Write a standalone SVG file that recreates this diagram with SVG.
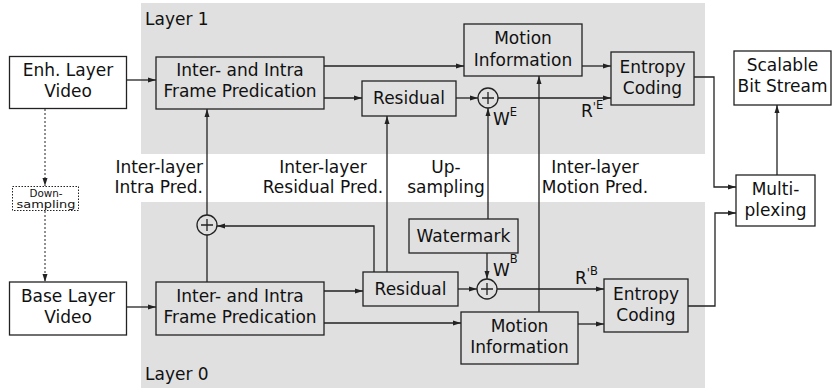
<svg xmlns="http://www.w3.org/2000/svg" width="834" height="388" viewBox="0 0 834 388">
<defs>
<marker id="ah" viewBox="0 0 8 6" refX="8" refY="3" markerWidth="8" markerHeight="6" markerUnits="userSpaceOnUse" orient="auto">
<path d="M0,0.5 L8,3 L0,5.5 z" fill="#222"/>
</marker>
<style>
text{font-family:"DejaVu Sans","Liberation Sans",sans-serif;font-size:17px;fill:#111;text-anchor:middle}
.lab{text-anchor:start}
.b{fill:#e0e0e0;stroke:#222;stroke-width:1.3}
.w{fill:#fff;stroke:#222;stroke-width:1.3}
.d{fill:#fff;stroke:#222;stroke-width:1;stroke-dasharray:1.5 1.5}
.c{fill:none;stroke:#222;stroke-width:1.3}
.cd{fill:none;stroke:#222;stroke-width:1;stroke-dasharray:2 2}
.sup{font-size:11.5px}
.small{font-size:10px}
</style>
</defs>
<rect x="141" y="3" width="564" height="151" fill="#e0e0e0"/>
<rect x="141" y="202" width="564" height="186" fill="#e0e0e0"/>
<text class="lab" x="145" y="25">Layer 1</text>
<text class="lab" x="145" y="380">Layer 0</text>

<g id="connectors">
<path class="c" d="M127,80 H156" marker-end="url(#ah)"/>
<path class="c" d="M324,66 H464" marker-end="url(#ah)"/>
<path class="c" d="M324,98 H362" marker-end="url(#ah)"/>
<path class="c" d="M456,98 H478" marker-end="url(#ah)"/>
<path class="c" d="M498,98 H611" marker-end="url(#ah)"/>
<path class="c" d="M582,66 H611" marker-end="url(#ah)"/>
<path class="c" d="M694,77 H714 V187 H736" marker-end="url(#ah)"/>
<path class="c" d="M688,306 H715 V213 H736" marker-end="url(#ah)"/>
<path class="c" d="M777,175 V105" marker-end="url(#ah)"/>
<path class="cd" d="M45,109 V186" marker-end="url(#ah)"/>
<path class="cd" d="M45,211 V282" marker-end="url(#ah)"/>
<path class="c" d="M127,307 H156" marker-end="url(#ah)"/>
<path class="c" d="M207,282 V235"/>
<path class="c" d="M207,215 V109" marker-end="url(#ah)"/>
<path class="c" d="M374,272 V226 H217" marker-end="url(#ah)"/>
<path class="c" d="M387,272 V116" marker-end="url(#ah)"/>
<path class="c" d="M488,219 V108" marker-end="url(#ah)"/>
<path class="c" d="M487,253 V279" marker-end="url(#ah)"/>
<path class="c" d="M324,291 H363" marker-end="url(#ah)"/>
<path class="c" d="M458,289 H477" marker-end="url(#ah)"/>
<path class="c" d="M497,289 H604" marker-end="url(#ah)"/>
<path class="c" d="M324,323 H461" marker-end="url(#ah)"/>
<path class="c" d="M578,324 H604" marker-end="url(#ah)"/>
<path class="c" d="M539,312 V76" marker-end="url(#ah)"/>
</g>

<g id="edge-labels">
<text x="203" y="173" style="text-anchor:end">Inter-layer</text>
<text x="203" y="193" style="text-anchor:end">Intra Pred.</text>
<text x="323" y="173">Inter-layer</text>
<text x="323" y="193">Residual Pred.</text>
<text x="446" y="173">Up-</text>
<text x="446" y="193">sampling</text>
<text x="595" y="173">Inter-layer</text>
<text x="595" y="193">Motion Pred.</text>
<text class="lab" x="493" y="125">W<tspan class="sup" dy="-9">E</tspan></text>
<text class="lab" x="581" y="117">R<tspan class="sup" dy="-6">'</tspan><tspan class="sup" dy="-2">E</tspan></text>
<text class="lab" x="493" y="276">W<tspan class="sup" dy="-13">B</tspan></text>
<text class="lab" x="575" y="284">R<tspan class="sup" dy="-7">'</tspan><tspan class="sup" dy="-2">B</tspan></text>
</g>

<g id="enh"><rect class="w" x="9.5" y="56.5" width="117" height="52"/><text x="68" y="76">Enh. Layer</text><text x="68" y="97">Video</text></g>
<g id="inter1"><rect class="b" x="156" y="57" width="168" height="52"/><text x="240" y="76">Inter- and Intra</text><text x="240" y="97">Frame Predication</text></g>
<g id="motion1"><rect class="b" x="464" y="24" width="118" height="52"/><text x="523" y="44">Motion</text><text x="523" y="66">Information</text></g>
<g id="residual1"><rect class="b" x="362" y="81" width="94" height="35"/><text x="409" y="104">Residual</text></g>
<g id="plus1"><circle class="c" cx="488" cy="98" r="10"/><path class="c" d="M482,98 H494 M488,92 V104"/></g>
<g id="entropy1"><rect class="b" x="611" y="52" width="83" height="53"/><text x="652.5" y="73">Entropy</text><text x="652.5" y="94">Coding</text></g>
<g id="scalable"><rect class="w" x="734" y="51" width="97" height="54"/><text x="782.5" y="71">Scalable</text><text x="782.5" y="92">Bit Stream</text></g>
<g id="multi"><rect class="w" x="736" y="175" width="79" height="51"/><text x="775.5" y="195">Multi-</text><text x="775.5" y="216">plexing</text></g>
<g id="down"><rect class="d" x="12.5" y="186.5" width="66" height="24"/><text class="small" x="46" y="196.5" textLength="33" lengthAdjust="spacingAndGlyphs">Down-</text><text class="small" x="46" y="208" textLength="59" lengthAdjust="spacingAndGlyphs">sampling</text></g>
<g id="base"><rect class="w" x="9.5" y="282" width="117" height="53"/><text x="68" y="302">Base Layer</text><text x="68" y="323">Video</text></g>
<g id="inter0"><rect class="b" x="156" y="282" width="168" height="53"/><text x="240" y="302">Inter- and Intra</text><text x="240" y="323">Frame Predication</text></g>
<g id="plus0l"><circle class="c" cx="207" cy="225" r="10"/><path class="c" d="M201,225 H213 M207,219 V231"/></g>
<g id="watermark"><rect class="b" x="409" y="219" width="109" height="34"/><text x="463.5" y="242">Watermark</text></g>
<g id="residual0"><rect class="b" x="363" y="272" width="95" height="34"/><text x="410.5" y="295">Residual</text></g>
<g id="plus0"><circle class="c" cx="487" cy="289" r="10"/><path class="c" d="M481,289 H493 M487,283 V295"/></g>
<g id="motion0"><rect class="b" x="461" y="312" width="117" height="52"/><text x="519.5" y="332">Motion</text><text x="519.5" y="353">Information</text></g>
<g id="entropy0"><rect class="b" x="604" y="279" width="84" height="53"/><text x="646" y="300">Entropy</text><text x="646" y="321">Coding</text></g>
</svg>
